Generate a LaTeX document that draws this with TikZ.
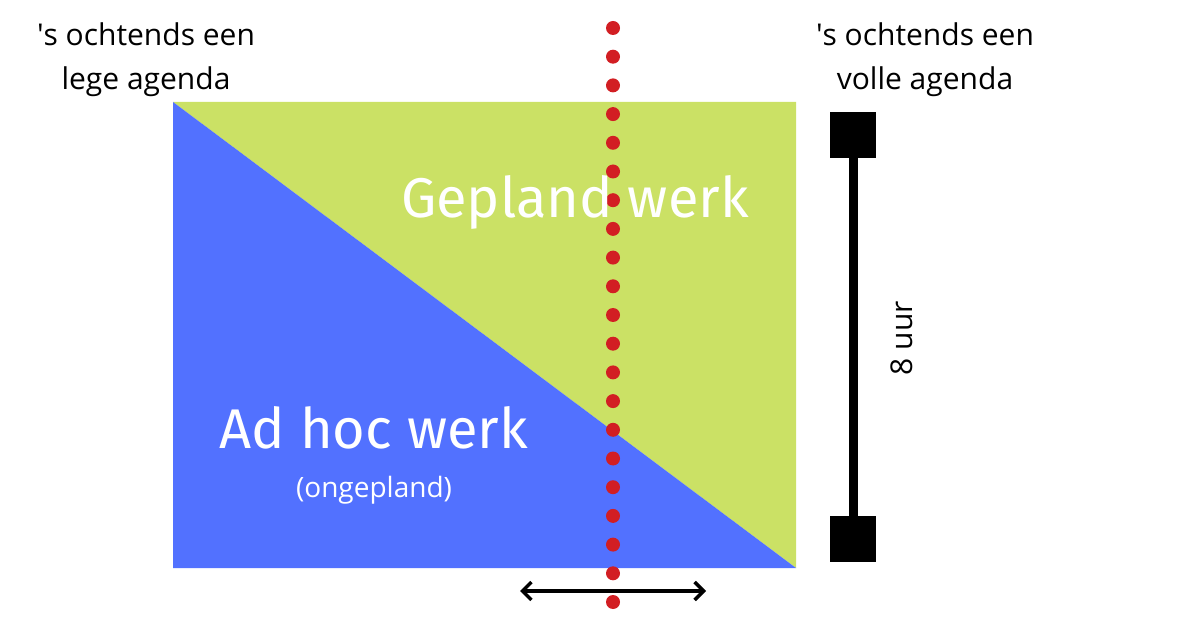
\documentclass[tikz,border=0pt]{standalone}
\usepackage{fontspec}
\setmainfont{Open Sans}
\newfontfamily\headfont{Fira Sans}
\usetikzlibrary{arrows.meta}
\definecolor{adhocblue}{RGB}{82,113,255}
\definecolor{planlime}{RGB}{203,225,101}
\definecolor{dotred}{RGB}{210,30,35}
\tikzset{
  toplabel/.style={align=center,font=\fontsize{30}{44}\selectfont,inner sep=0.75pt},
  bigtext/.style={text=white,font=\headfont\fontsize{56}{60}\selectfont,inner sep=0.75pt},
  endblock/.style={fill=black,minimum size=46pt,inner sep=0pt},
}
\begin{document}
\begin{tikzpicture}[x=1pt,y=1pt,yscale=-1,xscale=1]
\useasboundingbox (0,0) rectangle (1200,628);

%Shape: Triangle (planned)
\fill [planlime] (173,102) -- (796,102) -- (796,568) -- cycle ;
%Shape: Triangle (ad hoc)
\fill [adhocblue] (173,102) -- (796,568) -- (173,568) -- cycle ;

%Dotted line
\foreach \i in {0,...,20}
  \fill [dotred] (613,{28+28.7*\i}) circle (7);

%Double arrow
\coordinate (arrL) at (520,591);
\coordinate (arrR) at (706,591);
\draw [line width=3.5pt,{Straight Barb[length=9pt,width=18pt]}-{Straight Barb[length=9pt,width=18pt]}] (arrL) -- (arrR) ;

%Scale bar
\node [endblock] (barTop) at (853,135) {};
\node [endblock] (barBot) at (853,539) {};
\draw [line width=9pt] (barTop) -- (barBot) ;

% Text Node
\node [toplabel,rotate=90] (hours) at (902,338) {8 uur};
% Text Node
\node [toplabel] (leftLbl) at (146,60) {\textquotesingle s ochtends een\\lege agenda};
% Text Node
\node [toplabel] (rightLbl) at (925,60) {\textquotesingle s ochtends een\\volle agenda};
% Text Node
\node [bigtext] (gepland) at (575,202) {Gepland werk};
% Text Node
\node [bigtext] (adhoc) at (374,428) {Ad hoc werk};
% Text Node
\node [text=white,font=\fontsize{28}{32}\selectfont] (onge) at (374,490) {(ongepland)};

\end{tikzpicture}
\end{document}
